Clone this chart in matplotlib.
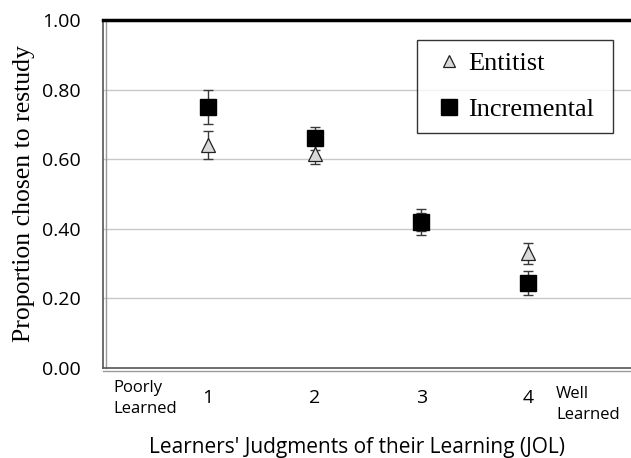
import matplotlib.pyplot as plt
from matplotlib.lines import Line2D
from matplotlib import transforms
import numpy as np

# data
jol = [1, 2, 3, 4]
entitist = [0.64, 0.615, 0.42, 0.33]
entitist_err = [0.04, 0.028, 0.025, 0.03]
incremental = [0.75, 0.66, 0.42, 0.245]
incremental_err = [0.048, 0.033, 0.037, 0.035]
y_ticks = [0.0, 0.2, 0.4, 0.6, 0.8, 1.0]

fig = plt.figure(figsize=(6.31, 4.58), dpi=100)
# axes runs off the right edge like in the original
ax = fig.add_axes([103/631, 1-368/458, 1-103/631, 348/458])

ax.set_xlim(0.016, 4.964)
ax.set_ylim(0, 1.0)

# grid
for yv in y_ticks[1:-1]:
    ax.axhline(yv, color='#c8c8c8', lw=1.0, zorder=0)

ax.errorbar(jol, entitist, yerr=entitist_err, fmt='none', ecolor='#3a3a3a',
            elinewidth=1.0, capsize=3.5, capthick=1.0, zorder=2)
ax.errorbar(jol, incremental, yerr=incremental_err, fmt='none', ecolor='#3a3a3a',
            elinewidth=1.0, capsize=3.5, capthick=1.0, zorder=2)
ax.plot(jol, entitist, ls='none', marker='^', ms=9.5, mfc='#d9d9d9', mec='#222222',
        mew=0.9, zorder=3)
ax.plot(jol, incremental, ls='none', marker='s', ms=11, mfc='black', mec='black', zorder=4)

# spines
ax.spines['right'].set_visible(False)
ax.spines['top'].set_linewidth(2.5)
ax.spines['top'].set_color('black')
ax.spines['left'].set_color('#555555')
ax.spines['bottom'].set_color('#555555')
ax.spines['left'].set_linewidth(1.2)
ax.spines['bottom'].set_linewidth(1.2)
# second thin line for the double-line frame
off_l = transforms.offset_copy(ax.transAxes, fig=fig, x=2.5, y=0, units='dots')
off_b = transforms.offset_copy(ax.transAxes, fig=fig, x=0, y=-2.5, units='dots')
ax.add_line(Line2D([0, 0], [0, 1], transform=off_l, color='#9a9a9a', lw=1.0, clip_on=False))
ax.add_line(Line2D([0, 1], [0, 0], transform=off_b, color='#9a9a9a', lw=1.0, clip_on=False))

ax.tick_params(length=0)
ax.set_yticks(y_ticks)
ax.set_yticklabels(['%.2f' % v for v in y_ticks], fontsize=14, family='Open Sans')
ax.tick_params(axis='y', pad=16)
ax.set_xticks(jol)
ax.set_xticklabels([str(v) for v in jol], fontsize=14, family='Open Sans')
ax.tick_params(axis='x', pad=15)

ax.set_ylabel('Proportion chosen to restudy', fontsize=18.5, family='Liberation Serif', labelpad=5)
fig.text(357/631, 1-447/458, "Learners' Judgments of their Learning (JOL)",
         fontsize=15, family='Open Sans', ha='center', va='center')

fig.text(113/631, 1-380/458, 'Poorly\nLearned', fontsize=12, family='Open Sans',
         ha='left', va='top', linespacing=1.4)
fig.text(556/631, 1-386/458, 'Well\nLearned', fontsize=12, family='Open Sans',
         ha='left', va='top', linespacing=1.4)

handles = [Line2D([], [], ls='none', marker='^', ms=9, mfc='#d9d9d9', mec='#222222', mew=0.9),
           Line2D([], [], ls='none', marker='s', ms=11, mfc='black', mec='black')]
leg = fig.legend(handles, ['Entitist', 'Incremental'], loc='upper left',
                 bbox_to_anchor=(417/631, 1-132/458, 196/631, 92/458),
                 bbox_transform=fig.transFigure, mode='expand',
                 prop={'family': 'Liberation Serif', 'size': 19},
                 fancybox=False, frameon=True, edgecolor='black', borderpad=0.45,
                 labelspacing=0.85, handlelength=1.5, handletextpad=0.0, borderaxespad=0)
leg.get_frame().set_linewidth(1.0)

fig.savefig('out.png', dpi=100)
